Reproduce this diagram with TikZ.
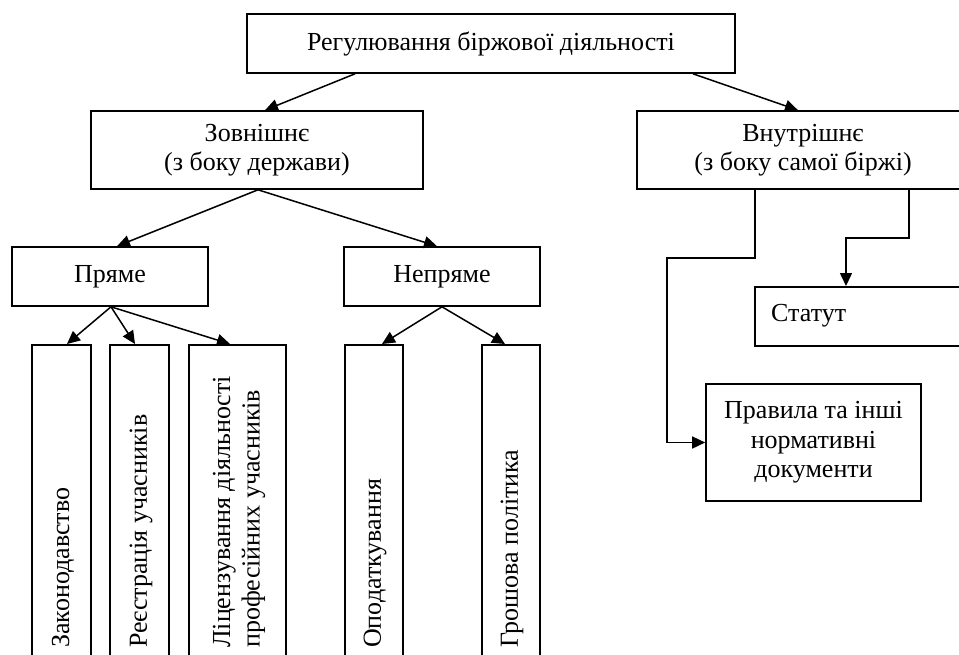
\documentclass[tikz,border=0pt]{standalone}
\usepackage{fontspec}
\setmainfont{Liberation Serif}
\usetikzlibrary{arrows.meta}
\begin{document}
\begin{tikzpicture}[x=1pt,y=-1pt,
  every node/.style={font=\fontsize{26}{29.5}\selectfont},
  box/.style={draw,line width=1.6pt,inner sep=0pt,align=center},
  vbox/.style={draw,line width=1.6pt,inner sep=0pt},
  vtext/.style={rotate=90,anchor=west,align=left,inner sep=0pt,font=\fontsize{26}{29.5}\selectfont},
  arr/.style={line width=1.5pt,-{Triangle[length=13pt,width=12pt]}}]
\useasboundingbox (0,0) rectangle (959,654);
\clip (0,0) rectangle (959,654);
% boxes
\node[box,minimum width=488pt,minimum height=59pt] (top) at (491,43.5) {Регулювання біржової діяльності};
\node[box,minimum width=332pt,minimum height=78pt] (zovn) at (257,150) {Зовнішнє\\(з боку держави)};
\node[box,minimum width=332pt,minimum height=78pt] (vnut) at (803,150) {Внутрішнє\\(з боку самої біржі)};
\node[box,minimum width=196pt,minimum height=59pt] (pryame) at (110,276.5) {Пряме};
\node[box,minimum width=196pt,minimum height=59pt] (nepryame) at (442,276.5) {Непряме};
% vertical boxes
\node[vbox,minimum width=59pt,minimum height=400pt,anchor=north] (zak) at (61.5,344) {};
\node[vbox,minimum width=59pt,minimum height=400pt,anchor=north] (reye) at (139.5,344) {};
\node[vbox,minimum width=97pt,minimum height=400pt,anchor=north] (lits) at (237.5,344) {};
\node[vbox,minimum width=58pt,minimum height=400pt,anchor=north] (opod) at (374,344) {};
\node[vbox,minimum width=58pt,minimum height=400pt,anchor=north] (hrosh) at (511,344) {};
\node[vtext] (tzak) at (63,648) {Законодавство};
\node[vtext] (treye) at (141,648) {Реєстрація учасників};
\node[vtext] (tlits) at (239,648) {Ліцензування діяльності\\професійних учасників};
\node[vtext] (topod) at (375,648) {Оподаткування};
\node[vtext] (throsh) at (512,648) {Грошова політика};
% right side
\node[box,minimum width=216pt,minimum height=59pt,anchor=north west] (statut) at (754,286) {};
\node[anchor=west,inner sep=0pt] (tstatut) at (771,315.5) {Статут};
\node[box,minimum width=215pt,minimum height=117pt] (pravyla) at (813.5,442.5) {Правила та інші\\нормативні\\документи};
% connectors
\draw[arr] ([xshift=-136pt]top.south) -- ([xshift=8pt]zovn.north);
\draw[arr] ([xshift=202pt]top.south) -- ([xshift=-5pt]vnut.north);
\draw[arr] ([xshift=1pt]zovn.south) -- ([xshift=7pt]pryame.north);
\draw[arr] ([xshift=1pt]zovn.south) -- ([xshift=-5pt]nepryame.north);
\draw[arr] ([xshift=1pt]pryame.south) -- ([xshift=5.5pt]zak.north);
\draw[arr] ([xshift=1pt]pryame.south) -- ([xshift=-4.5pt]reye.north);
\draw[arr] ([xshift=1pt]pryame.south) -- ([xshift=-7.5pt]lits.north);
\draw[arr] (nepryame.south) -- ([xshift=8pt]opod.north);
\draw[arr] (nepryame.south) -- ([xshift=-6pt]hrosh.north);
\coordinate (b1) at (667,258);
\coordinate (b2) at (846,238);
\draw[arr] ([xshift=-48pt]vnut.south) |- (b1) |- (pravyla.west);
\draw[arr] ([xshift=106pt]vnut.south) |- (b2) -- (b2 |- statut.north);
\end{tikzpicture}
\end{document}
